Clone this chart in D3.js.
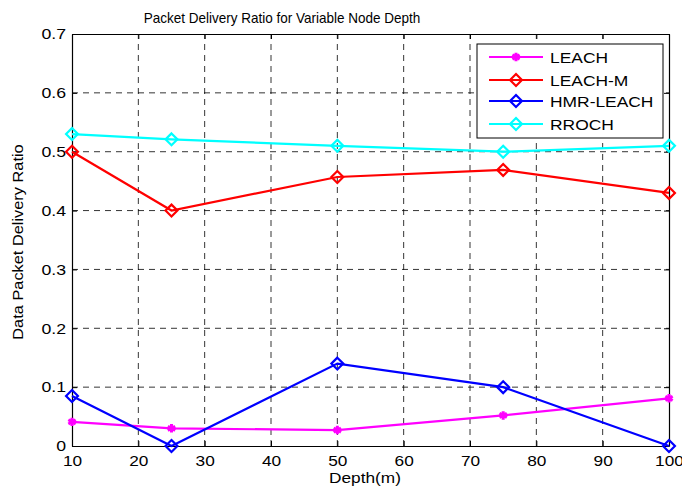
<!DOCTYPE html>
<html>
<head>
<meta charset="utf-8">
<script src="https://cdn.jsdelivr.net/npm/d3@7"></script>
<style>
  body { margin: 0; background: #fff; }
  svg { display: block; font-family: "Liberation Sans", Arial, sans-serif; }
</style>
</head>
<body>
<div id="chart"></div>
<script>
// values
var depths = [10, 25, 50, 75, 100];
var seriesNames = ["LEACH", "LEACH-M", "HMR-LEACH", "RROCH"];
var leach = [0.041, 0.030, 0.027, 0.052, 0.081];
var leachM = [0.50, 0.40, 0.457, 0.469, 0.43];
var hmrLeach = [0.085, 0.0, 0.14, 0.10, 0.0];
var rroch = [0.53, 0.521, 0.51, 0.50, 0.51];
var xTicks = [10, 20, 30, 40, 50, 60, 70, 80, 90, 100];
var yTicks = [0, 0.1, 0.2, 0.3, 0.4, 0.5, 0.6, 0.7];

var colors = ["#ff00ff", "#ff0000", "#0000ff", "#00ffff"];
var markers = ["star", "diamond", "diamond", "diamond"];

var width = 682, height = 489;
var margin = {left: 72, right: 13, top: 34, bottom: 43};

var svg = d3.select("#chart").append("svg")
  .attr("width", width)
  .attr("height", height);

// the original text is a bit wider than the font, stretch it sideways
function stretch(sel, k){
  sel.each(function(){
    var w = this.getComputedTextLength();
    if (w > 0) d3.select(this).attr("textLength", w * k).attr("lengthAdjust", "spacingAndGlyphs");
  });
}

var x = d3.scaleLinear().domain([10, 100]).range([margin.left, width - margin.right]);
var y = d3.scaleLinear().domain([0, 0.7]).range([height - margin.bottom, margin.top]);

// grid
svg.append("g").selectAll("line").data(xTicks.slice(1, -1)).join("line")
  .attr("x1", d => x(d)).attr("x2", d => x(d))
  .attr("y1", y(0)).attr("y2", y(0.7))
  .attr("stroke", "#000").attr("stroke-width", 0.8).attr("stroke-dasharray", "6,5");
svg.append("g").selectAll("line").data(yTicks.slice(1, -1)).join("line")
  .attr("x1", x(10)).attr("x2", x(100))
  .attr("y1", d => y(d)).attr("y2", d => y(d))
  .attr("stroke", "#000").attr("stroke-width", 0.8).attr("stroke-dasharray", "6,5");

// axes, ticks inside like matlab
var xAxis = svg.append("g").attr("transform", `translate(0,${y(0)})`)
  .call(d3.axisBottom(x).tickValues(xTicks).tickSizeInner(-5).tickSizeOuter(0).tickPadding(9).tickFormat(d3.format("d")));
var xAxisTop = svg.append("g").attr("transform", `translate(0,${y(0.7)})`)
  .call(d3.axisTop(x).tickValues(xTicks).tickSizeInner(-5).tickSizeOuter(0).tickFormat(""));
var yAxis = svg.append("g").attr("transform", `translate(${x(10)},0)`)
  .call(d3.axisLeft(y).tickValues(yTicks).tickSizeInner(-5).tickSizeOuter(0).tickPadding(6).tickFormat(d => d === 0 ? "0" : d3.format(".1f")(d)));
var yAxisRight = svg.append("g").attr("transform", `translate(${x(100)},0)`)
  .call(d3.axisRight(y).tickValues(yTicks).tickSizeInner(-5).tickSizeOuter(0).tickFormat(""));

[xAxis, xAxisTop, yAxis, yAxisRight].forEach(function(g){
  g.select(".domain").attr("stroke", "#000").attr("stroke-width", 1.2);
  g.selectAll(".tick line").attr("stroke", "#000");
  g.selectAll("text").attr("font-size", 15).attr("fill", "#000")
    .attr("font-family", "Liberation Sans, Arial, sans-serif");
});
stretch(xAxis.selectAll("text"), 1.15);
stretch(yAxis.selectAll("text"), 1.18);

// lines
var allData = [leach, leachM, hmrLeach, rroch];
var line = d3.line().x((d, i) => x(depths[i])).y(d => y(d));

var diamond = d3.symbol().type(d3.symbolDiamond2).size(90);
var star = d3.symbol().type(d3.symbolAsterisk).size(50);

allData.forEach(function(vals, k){
  svg.append("path").datum(vals)
    .attr("d", line)
    .attr("fill", "none")
    .attr("stroke", colors[k])
    .attr("stroke-width", 2.2);
  svg.append("g").selectAll("path").data(vals).join("path")
    .attr("transform", (d, i) => `translate(${x(depths[i])},${y(d)})`)
    .attr("d", markers[k] === "star" ? star : diamond)
    .attr("fill", "none")
    .attr("stroke", colors[k])
    .attr("stroke-width", markers[k] === "star" ? 3 : 2.2);
});

// legend
var lg = svg.append("g");
lg.append("rect")
  .attr("x", 477).attr("y", 44).attr("width", 186).attr("height", 94)
  .attr("fill", "#fff").attr("stroke", "#000").attr("stroke-width", 1);
var rows = [57, 80, 101, 124];
seriesNames.forEach(function(name, k){
  var ly = rows[k];
  lg.append("line").attr("x1", 489).attr("x2", 543).attr("y1", ly).attr("y2", ly)
    .attr("stroke", colors[k]).attr("stroke-width", 2.2);
  lg.append("path").attr("transform", `translate(516,${ly})`)
    .attr("d", markers[k] === "star" ? star : diamond)
    .attr("fill", "none").attr("stroke", colors[k])
    .attr("stroke-width", markers[k] === "star" ? 3 : 2.2);
  lg.append("text").attr("x", 550).attr("y", ly + 5.5)
    .attr("font-size", 15).text(name);
});
stretch(lg.selectAll("text"), 1.16);

// titles
var title = svg.append("text").attr("x", 282).attr("y", 23).attr("text-anchor", "middle")
  .attr("font-size", 15).text("Packet Delivery Ratio for Variable Node Depth");
stretch(title, 0.9);
var xl = svg.append("text").attr("x", 365).attr("y", 483).attr("text-anchor", "middle")
  .attr("font-size", 15).text("Depth(m)");
stretch(xl, 1.15);
var yl = svg.append("text").attr("transform", "translate(23,242) rotate(-90)")
  .attr("text-anchor", "middle").attr("font-size", 15).text("Data Packet Delivery Ratio");
stretch(yl, 1.09);
</script>
</body>
</html>
